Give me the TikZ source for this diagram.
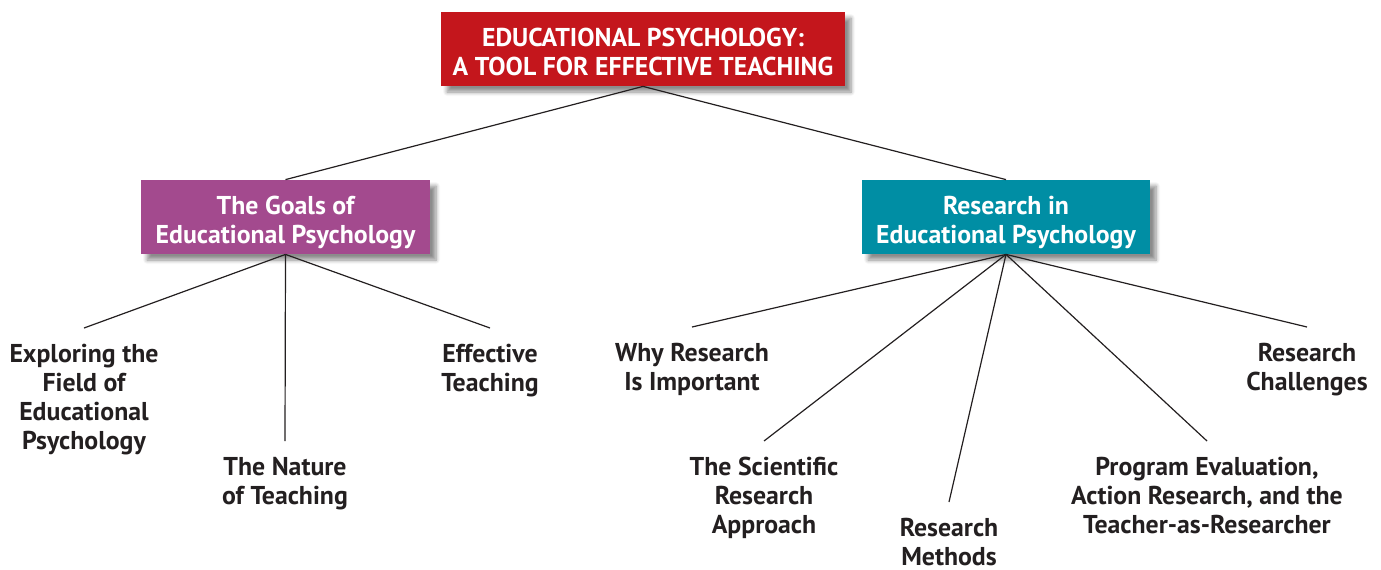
\documentclass[tikz,border=0pt]{standalone}
\usepackage{fontspec}
\setmainfont{PT Sans}
\usetikzlibrary{shadows.blur}
\definecolor{boxred}{HTML}{C4161C}
\definecolor{boxplum}{HTML}{A34A8E}
\definecolor{boxteal}{HTML}{008EA4}
\definecolor{ink}{HTML}{231F20}
\tikzset{
    headbox/.style={fill=#1, text=white, align=center, inner sep=0pt,
        minimum height=37pt, text height=26pt, text depth=0pt,
        blur shadow={shadow xshift=3pt, shadow yshift=-3pt, shadow opacity=45, shadow blur steps=6}},
    topic/.style={align=center, text=ink, anchor=north, inner sep=8pt},
    link/.style={draw=ink, line width=0.6pt}
}
\begin{document}
\begin{tikzpicture}[x=0.5pt, y=-0.5pt, font=\bfseries\fontsize{12.9}{14.5}\selectfont]
    \useasboundingbox (0,0) rectangle (1381,569);
    % Kopfkasten und die zwei Hauptthemen
    \node[headbox=boxred, minimum width=202pt] (edpsy) at (643,49)
        {EDUCATIONAL PSYCHOLOGY:\\A TOOL FOR EFFECTIVE TEACHING};
    \node[headbox=boxplum, minimum width=144.5pt] (goals) at (285.5,217)
        {The Goals of\\Educational Psychology};
    \node[headbox=boxteal, minimum width=144pt] (research) at (1006,217)
        {Research in\\Educational Psychology};
    % Unterthemen: Ziele
    \node[topic] (explore) at (84,328) {Exploring the\\Field of\\Educational\\Psychology};
    \node[topic] (nature) at (285,441) {The Nature\\of Teaching};
    \node[topic] (effective) at (490,328) {Effective\\Teaching};
    % Unterthemen: Forschung
    \node[topic] (why) at (692,327) {Why Research\\Is Important};
    \node[topic] (scientific) at (764,441) {The Scientific\\Research\\Approach};
    \node[topic] (methods) at (949,502) {Research\\Methods};
    \node[topic] (program) at (1207,441) {Program Evaluation,\\Action Research, and the\\Teacher-as-Researcher};
    \node[topic] (challenges) at (1307,327) {Research\\Challenges};
    % Verbindungslinien
    \foreach \kid in {goals, research} {
        \draw[link] (edpsy.south) -- (\kid.north);
    }
    \foreach \kid in {explore, nature, effective} {
        \draw[link] (goals.south) -- (\kid.north);
    }
    \foreach \kid in {why, scientific, methods, program, challenges} {
        \draw[link] (research.south) -- (\kid.north);
    }
\end{tikzpicture}
\end{document}
